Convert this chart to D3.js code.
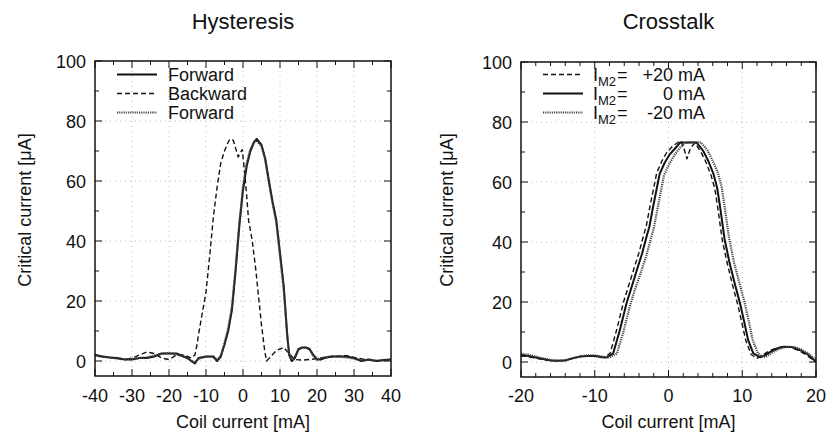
<!DOCTYPE html>
<html lang="en">
<head>
<meta charset="UTF-8">
<title>Hysteresis and Crosstalk</title>
<style>
  body { margin: 0; background: #fff; }
  text { font-family: "Liberation Sans", Arial, sans-serif; fill: #111; }
</style>
</head>
<body>
<svg id="chart" width="827" height="434"></svg>
<script src="https://d3js.org/d3.v7.min.js"></script>
<script>
// ---- Hysteresis panel data (coil current in mA, critical current in uA) ----
var hystFwdX = [-40,-38,-36,-34,-32,-30,-28,-26,-24,-22,-20,-18,-16,-15,-14,-13,-12,-10,-8,-7,-6,-5,-4,-3,-2,-1,0,1,2,3,3.7,5,6,7,8,9,10,11,12,12.5,13.2,14,15,16,17,18,19,20,21,22,24,26,28,30,32,34,36,38,40];
var hystFwdY = [2,1.5,1.2,1,0.5,0.5,1,1,1.5,2.5,2.5,2.5,1.5,1,0,-0.8,1,1.5,1.5,0,1.5,5.5,10,17,30,45,57,65,70,73,74,72,67.5,60,53,47,36,25,8,2,0,1,4,4.5,4.5,4,2,0.5,0.5,1,1.5,1.5,1.5,1,0,0.5,0,0.3,0.5];

var hystBwdX = [-40,-38,-35,-32,-30,-28,-26,-24,-22,-20,-18,-16,-14,-13,-12.5,-12,-11,-10,-9,-8,-7,-6,-5,-4,-3.5,-2.6,-1.3,-0.2,0.5,1,1.5,2.5,3.5,4.1,5,5.9,6.4,7.5,9,11,12.5,14,16,18,20,22,25,28,30,33,36,40];
var hystBwdY = [2,1.5,1,0.5,1,2,3,2.5,1,0.5,2,2,1,2,5,9,16,23,35,48,58,66,70,73,74,73.5,68,70.5,62,55,47,40,30,22.6,12,3,0,1.5,3.5,4.5,2.5,0.5,0.3,0.5,0.8,1.2,1.5,1.8,1.2,0.5,0,0.3];

var hystFwd2X = [-40,-38,-36,-34,-32,-30,-28,-26,-24,-22,-20,-18,-16,-14,-13,-12,-10,-8,-7,-6,-5,-4,-3,-2,-1,0,1,2,3,3.7,5,6,7,8,9,10,11,12,12.5,13.2,14,15,16,17,18,19,20,22,24,26,28,30,32,34,36,38,40];
var hystFwd2Y = [1.8,1.4,1.2,0.8,0.6,0.7,1,1.2,1.8,2.4,2.6,2.2,1.4,0.2,-0.5,0.8,1.4,1.3,0.3,1.8,6,11,18,31,46,58,66,70.5,73,73.5,71.5,67,59.5,52.5,46,35,24,7.5,2,0.2,1.2,3.8,4.3,4.4,3.8,1.8,0.6,1.2,1.6,1.4,1.2,0.8,0.2,0.4,0.1,0.2,0.4];

var hystXTicks = [-40,-30,-20,-10,0,10,20,30,40];
var hystLegend = ["Forward", "Backward", "Forward"];

// ---- Crosstalk panel data ----
var crossP20X = [-20,-19,-18,-17,-16,-15,-14,-13,-12,-11,-10,-9,-8.6,-7.9,-7,-6.1,-5.4,-4.7,-4,-3.4,-3,-2.5,-1.6,-0.9,-0.2,0.6,1.6,2,2.5,3,3.6,4.4,5.1,5.8,6.3,6.7,7.3,8,8.7,9.4,10,10.5,11.2,12,12.7,13.5,14.5,15.5,16.5,17.6,18.7,19.4,20];
var crossP20Y = [2,1.8,1.3,0.8,0.5,0.4,0.6,1.2,1.8,2,2,1.6,1.5,3,11,20,25.5,31,36.5,42,45.5,52,63,67,70,72,73.8,72,67.7,71.5,73,70,66.5,62,57.5,51,40.5,32.5,25.5,19,12.5,7,2.5,1.2,2.2,3.5,4.6,5.1,4.9,3.9,2.3,1,0];

var crossZeroX = [-20,-19,-18,-17,-16,-15,-14,-13,-12,-11,-10,-9,-8.4,-7.5,-6.6,-5.7,-5,-4.3,-3.6,-3,-2.6,-2.1,-1.2,-0.5,0.2,1,1.6,2.5,3.8,4.7,5.4,6.1,6.6,7,7.6,8.3,9,9.7,10.3,10.8,11.5,12.4,13.1,13.8,14.7,15.6,16.7,17.8,18.9,19.5,20];
var crossZeroY = [2.3,2,1.5,1,0.5,0.4,0.5,1.2,1.8,2,2,1.6,1.5,2.9,10.6,19.5,25,30.6,36,41.6,45,51.6,62.7,66.5,69.3,71.5,73.2,73.2,73.2,70.4,67,62.7,58,51.6,41,32.8,26,19.5,13,7.3,2.9,1.6,2.2,3.4,4.5,5.1,5,4,2.5,1.2,0.1];

var crossM20X = [-20,-19,-18,-17,-16,-15,-14,-13,-12,-11,-10,-9,-8,-7,-6.1,-5.2,-4.5,-3.7,-3,-2.4,-2,-1.5,-0.6,0.1,0.8,1.6,2.2,3,4.4,5.3,6,6.7,7.2,7.6,8.2,8.9,9.6,10.3,10.9,11.4,12.1,12.8,13.4,14.1,15,15.9,17,18,19,19.6,20];
var crossM20Y = [2.8,2.4,1.8,1.2,0.7,0.5,0.6,1.3,1.9,2.2,2.2,1.8,1.5,2.8,10.2,19,24.5,30.2,35.5,41,44.5,51,62.3,66,69,71.5,73,73.2,73.2,70.5,67,63,58.5,52,41.5,33,26.5,20,13.5,7.5,3,1.6,2,3.2,4.4,5,5,4.2,2.8,1.5,0.5];

var crossXTicks = [-20,-10,0,10,20];
var crossLegendVals = ["+20", "0", "-20"];

var yTicks = [0,20,40,60,80,100];

// line styles: solid, dashed, dotted
var styles = {
  solid:  {dash: null,    width: 2,   color: "#111"},
  dashed: {dash: "5,3",   width: 1.4, color: "#111"},
  dotted: {dash: "1.2,1", width: 2.2, color: "#444"}
};

var svg = d3.select("#chart");

function drawPanel(p) {
  var x = d3.scaleLinear().domain(p.xDomain).range([p.left, p.right]);
  var y = d3.scaleLinear().domain([-5, 100]).range([p.bottom, p.top]);
  var g = svg.append("g");

  // grid
  g.selectAll(".gx").data(p.xTicks.slice(1, -1)).enter().append("line")
    .attr("x1", d => x(d)).attr("x2", d => x(d))
    .attr("y1", p.top).attr("y2", p.bottom)
    .attr("stroke", "#bbb").attr("stroke-width", 1).attr("stroke-dasharray", "1,4");
  g.selectAll(".gy").data(yTicks.slice(0, -1)).enter().append("line")
    .attr("x1", p.left).attr("x2", p.right)
    .attr("y1", d => y(d)).attr("y2", d => y(d))
    .attr("stroke", "#bbb").attr("stroke-width", 1).attr("stroke-dasharray", "1,4");

  // ticks on all four sides, pointing inward
  var xMinor = d3.range(p.xDomain[0], p.xDomain[1] + 0.001, p.xMinorStep);
  var yMinor = d3.range(0, 100.001, 10);
  xMinor.forEach(function(v) {
    var len = p.xTicks.indexOf(v) >= 0 ? 7 : 4;
    g.append("line").attr("x1", x(v)).attr("x2", x(v)).attr("y1", p.bottom).attr("y2", p.bottom - len).attr("stroke", "#111");
    g.append("line").attr("x1", x(v)).attr("x2", x(v)).attr("y1", p.top).attr("y2", p.top + len).attr("stroke", "#111");
  });
  yMinor.forEach(function(v) {
    var len = yTicks.indexOf(v) >= 0 ? 7 : 4;
    g.append("line").attr("y1", y(v)).attr("y2", y(v)).attr("x1", p.left).attr("x2", p.left + len).attr("stroke", "#111");
    g.append("line").attr("y1", y(v)).attr("y2", y(v)).attr("x1", p.right).attr("x2", p.right - len).attr("stroke", "#111");
  });

  // tick labels
  g.selectAll(".xl").data(p.xTicks).enter().append("text")
    .attr("x", d => x(d)).attr("y", 402).attr("text-anchor", "middle")
    .style("font-size", "18px").text(d => d);
  g.selectAll(".yl").data(yTicks).enter().append("text")
    .attr("x", p.left - 9).attr("y", d => y(d) + 6.5).attr("text-anchor", "end")
    .style("font-size", "18px").text(d => d);

  // series
  var line = d3.line().x(d => x(d[0])).y(d => y(d[1]));
  p.series.forEach(function(s) {
    var st = styles[s.style];
    var pts = s.xs.map((v, i) => [v, s.ys[i]]);
    g.append("path").datum(pts).attr("d", line)
      .attr("fill", "none").attr("stroke", st.color).attr("stroke-width", st.width)
      .attr("stroke-dasharray", st.dash).attr("stroke-linejoin", "round");
  });

  // frame
  g.append("rect").attr("x", p.left).attr("y", p.top)
    .attr("width", p.right - p.left).attr("height", p.bottom - p.top)
    .attr("fill", "none").attr("stroke", "#111").attr("stroke-width", 1.5);

  // titles and axis labels
  var cx = (p.left + p.right) / 2;
  svg.append("text").attr("x", cx).attr("y", 29).attr("text-anchor", "middle")
    .style("font-size", "22px").text(p.title);
  svg.append("text").attr("x", cx).attr("y", 428).attr("text-anchor", "middle")
    .style("font-size", "18px").text("Coil current [mA]");
  svg.append("text").attr("transform", "translate(" + p.yLabelX + ",210) rotate(-90)")
    .attr("text-anchor", "middle").style("font-size", "18px").text("Critical current [\u03bcA]");

  // legend line samples
  p.series.forEach(function(s, i) {
    var st = styles[s.style];
    var ly = 74.5 + i * 19;
    svg.append("line").attr("x1", p.legX).attr("x2", p.legX + 40).attr("y1", ly).attr("y2", ly)
      .attr("stroke", st.color).attr("stroke-width", st.width).attr("stroke-dasharray", st.dash);
  });
}

drawPanel({
  left: 95, right: 391, top: 61, bottom: 376,
  xDomain: [-40, 40], xTicks: hystXTicks, xMinorStep: 5,
  title: "Hysteresis", yLabelX: 31, legX: 117,
  series: [
    {xs: hystFwdX, ys: hystFwdY, style: "solid"},
    {xs: hystBwdX, ys: hystBwdY, style: "dashed"},
    {xs: hystFwd2X, ys: hystFwd2Y, style: "dotted"}
  ]
});

drawPanel({
  left: 521, right: 816, top: 62, bottom: 377,
  xDomain: [-20, 20], xTicks: crossXTicks, xMinorStep: 2,
  title: "Crosstalk", yLabelX: 453, legX: 543,
  series: [
    {xs: crossP20X, ys: crossP20Y, style: "dashed"},
    {xs: crossZeroX, ys: crossZeroY, style: "solid"},
    {xs: crossM20X, ys: crossM20Y, style: "dotted"}
  ]
});

// legend texts
hystLegend.forEach(function(t, i) {
  svg.append("text").attr("x", 168).attr("y", 80.5 + i * 19).style("font-size", "18px").text(t);
});
crossLegendVals.forEach(function(v, i) {
  var by = 80.5 + i * 19;
  var t = svg.append("text").attr("x", 593).attr("y", by).style("font-size", "18px");
  t.append("tspan").text("I");
  t.append("tspan").attr("dy", 5).style("font-size", "13px").text("M2");
  t.append("tspan").attr("dy", -5).attr("dx", 1).text("=");
  svg.append("text").attr("x", 673).attr("y", by).attr("text-anchor", "end").style("font-size", "18px").text(v);
  svg.append("text").attr("x", 678).attr("y", by).style("font-size", "18px").text("mA");
});
</script>
</body>
</html>
